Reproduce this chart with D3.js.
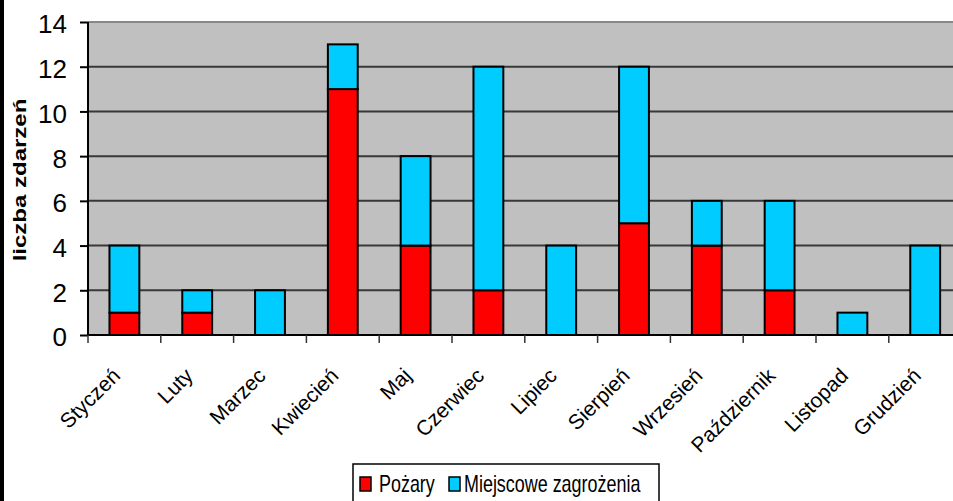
<!DOCTYPE html>
<html><head><meta charset="utf-8">
<script src="https://cdn.jsdelivr.net/npm/d3@7"></script>
<style>html,body{margin:0;padding:0;background:#fff;overflow:hidden}svg{display:block}</style>
</head><body>
<script>
const months = ["Styczeń","Luty","Marzec","Kwiecień","Maj","Czerwiec","Lipiec","Sierpień","Wrzesień","Październik","Listopad","Grudzień"];
const pozary = [1,1,0,11,4,2,0,5,4,2,0,0];
const miejscowe = [3,1,2,2,4,10,4,7,2,4,1,4];
const seriesNames = ["Pożary","Miejscowe zagrożenia"];
const seriesColors = ["#ff0000","#00ccff"];
const yTicks = [0,2,4,6,8,10,12,14];

(function(){
const W = 953, H = 501;
const FONT = "Liberation Sans, Arial, sans-serif";
const svg = d3.select("body").append("svg").attr("width", W).attr("height", H);
svg.append("rect").attr("x",0).attr("y",0).attr("width",W).attr("height",H).attr("fill","#fff");
svg.append("rect").attr("x",0).attr("y",0).attr("width",4).attr("height",H).attr("fill","#000");

const pLeft = 88, pTop = 22, pBottom = 335;
const x = d3.scaleBand().domain(months).range([pLeft, pLeft + 12*72.8]).paddingInner(0.59).paddingOuter(0.295);
const xt = d3.scaleBand().domain(months).range([pLeft, pLeft + 12*72.8]);
const y = d3.scaleLinear().domain([0,14]).range([pBottom, pTop]);

svg.append("rect").attr("x",pLeft).attr("y",pTop).attr("width",W-pLeft).attr("height",pBottom-pTop).attr("fill","#c0c0c0");
svg.append("line").attr("x1",pLeft).attr("x2",W).attr("y1",pTop).attr("y2",pTop).attr("stroke","#888").attr("stroke-width",2);

svg.append("g").selectAll("line").data(yTicks.filter(d=>d>0 && d<14)).join("line")
  .attr("x1",pLeft).attr("x2",W).attr("y1",d=>y(d)).attr("y2",d=>y(d))
  .attr("stroke","#383838").attr("stroke-width",2);

const table = months.map((m,i)=>({month:m, p:pozary[i], m2:miejscowe[i]}));
const stack = d3.stack().keys(["p","m2"])(table);
const g = svg.append("g");
stack.forEach((layer,li)=>{
  g.append("g").selectAll("rect").data(layer).join("rect")
    .attr("x",d=>x(d.data.month)).attr("width",x.bandwidth())
    .attr("y",d=>y(d[1])).attr("height",d=>y(d[0])-y(d[1]))
    .attr("fill",seriesColors[li]).attr("stroke","#000").attr("stroke-width",2);
});

const ya = svg.append("g").attr("transform",`translate(${pLeft},0)`)
  .call(d3.axisLeft(y).tickValues(yTicks).tickSize(8).tickPadding(13));
ya.select(".domain").attr("stroke","#000").attr("stroke-width",2).attr("d",`M0,${pTop}V${pBottom}`);
ya.selectAll(".tick line").attr("stroke","#000").attr("stroke-width",2);
ya.selectAll("text").attr("font-family",FONT).attr("font-size",26).attr("fill","#000").attr("dy","0.42em");

svg.append("line").attr("x1",pLeft).attr("x2",W).attr("y1",pBottom).attr("y2",pBottom).attr("stroke","#000").attr("stroke-width",2);
svg.append("g").selectAll("line").data(months).join("line")
  .attr("x1",d=>xt(d)).attr("x2",d=>xt(d)).attr("y1",pBottom).attr("y2",pBottom+8)
  .attr("stroke","#333").attr("stroke-width",1.5);
svg.append("g").selectAll("text").data(months).join("text")
  .attr("transform",d=>`translate(${xt(d)+xt.bandwidth()/2-3},${pBottom+42}) rotate(-45)`)
  .attr("text-anchor","end").attr("font-family",FONT)
  .attr("font-size",21).attr("fill","#000").text(d=>d);

svg.append("text").attr("transform",`translate(26,180) scale(0.75,1) rotate(-90)`)
  .attr("text-anchor","middle").attr("font-family",FONT)
  .attr("font-weight","bold").attr("font-size",24).attr("fill","#000").text("liczba zdarzeń");

const lg = svg.append("g");
lg.append("rect").attr("x",353).attr("y",464).attr("width",306).attr("height",45).attr("fill","#fff").attr("stroke","#000").attr("stroke-width",1.5);
const lx = [360, 449];
const tx = [379, 464];
seriesNames.forEach((n,i)=>{
  lg.append("rect").attr("x",lx[i]).attr("y",477).attr("width",11).attr("height",14)
    .attr("fill",seriesColors[i]).attr("stroke","#000").attr("stroke-width",1.5);
  lg.append("text").attr("transform",`translate(${tx[i]},492) scale(0.78,1)`)
    .attr("font-family",FONT).attr("font-size",23).attr("fill","#000").text(n);
});
})();
</script>
</body></html>
